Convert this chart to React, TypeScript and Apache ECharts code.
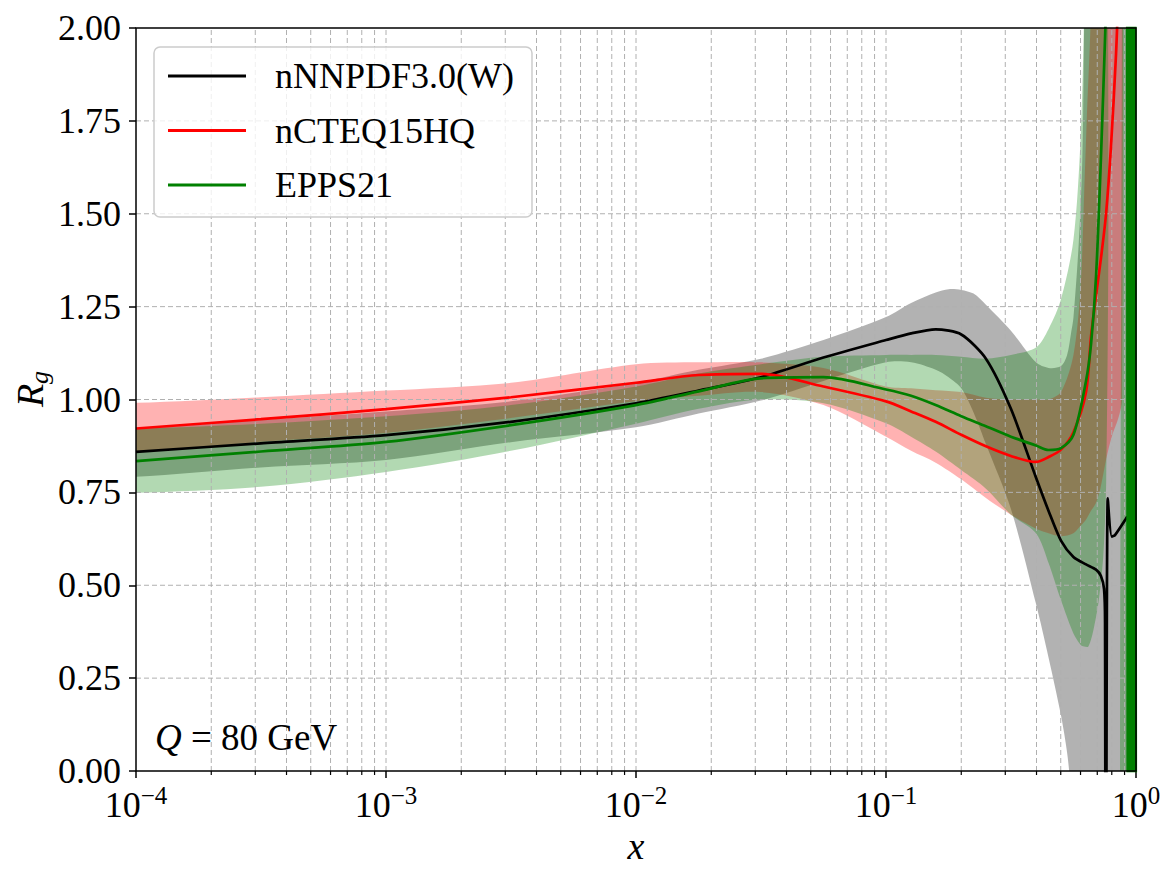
import React, { useEffect, useRef } from "react";
import * as echarts from "echarts";

// ---------- data ----------
// central values
const nnpdfX = [1e-4, 3.16e-4, 1e-3, 3.16e-3, 0.01, 0.0178, 0.0316, 0.0562, 0.1, 0.126, 0.158, 0.2, 0.251, 0.316, 0.398, 0.447, 0.501, 0.562, 0.631, 0.692, 0.724, 0.745, 0.752, 0.757, 0.771, 0.8, 0.824, 0.923];
const nnpdfY = [0.859, 0.882, 0.904, 0.94, 0.99, 1.024, 1.06, 1.113, 1.16, 1.178, 1.189, 1.175, 1.11, 0.975, 0.79, 0.7, 0.62, 0.576, 0.556, 0.542, 0.525, 0.49, 0.4, -1.0, 0.734, 0.631, 0.635, 0.685];

const ncteqX = [1e-4, 3.16e-4, 1e-3, 3.16e-3, 0.01, 0.0178, 0.0316, 0.0562, 0.1, 0.126, 0.158, 0.2, 0.251, 0.316, 0.398, 0.447, 0.501, 0.562, 0.631, 0.661, 0.692, 0.724, 0.759, 0.794, 0.832, 0.85];
const ncteqY = [0.922, 0.947, 0.974, 1.006, 1.045, 1.066, 1.069, 1.035, 0.995, 0.968, 0.94, 0.905, 0.874, 0.848, 0.832, 0.845, 0.865, 0.912, 1.02, 1.17, 1.28, 1.38, 1.5, 1.68, 1.93, 2.1];

const eppsX = [1e-4, 3.16e-4, 1e-3, 3.16e-3, 0.01, 0.0178, 0.0316, 0.0562, 0.1, 0.126, 0.158, 0.2, 0.251, 0.316, 0.398, 0.447, 0.501, 0.562, 0.631, 0.661, 0.692, 0.724, 0.7586];
const eppsY = [0.834, 0.86, 0.886, 0.931, 0.985, 1.022, 1.057, 1.06, 1.027, 1.01, 0.985, 0.955, 0.928, 0.9, 0.876, 0.864, 0.869, 0.905, 1.05, 1.15, 1.33, 1.65, 2.05];

// EPPS21 curve oscillating at x -> 1 (solid green strip)
const eppsEdgeX = [0.9204, 0.929, 0.9376, 0.9462, 0.955, 0.9638, 0.9727, 0.9817, 0.9908, 1.0];
const eppsEdgeY = [3, -1, 3, -1, 3, -1, 3, -1, 3, -1];

// uncertainty bands
const nnpdfBandX = [1e-4, 3.16e-4, 1e-3, 3.16e-3, 0.01, 0.0178, 0.0316, 0.0562, 0.1, 0.126, 0.158, 0.178, 0.2, 0.224, 0.251, 0.316, 0.398, 0.447, 0.501, 0.53, 0.55, 0.562, 0.59, 0.61, 0.62, 0.631, 1.0];
const nnpdfLo = [0.792, 0.817, 0.837, 0.885, 0.925, 0.962, 0.997, 1.05, 1.1, 1.1, 1.08, 1.06, 1.03, 0.965, 0.88, 0.705, 0.45, 0.305, 0.15, 0.05, -0.05, -0.1, -0.3, -0.5, -0.6, -0.8, -1];
const nnpdfHi = [0.922, 0.945, 0.968, 0.995, 1.045, 1.08, 1.11, 1.16, 1.222, 1.26, 1.288, 1.297, 1.295, 1.285, 1.255, 1.185, 1.1, 1.085, 1.09, 1.12, 1.18, 1.22, 1.42, 1.65, 2.0, 2.5, 3];

const ncteqBandX = [1e-4, 3.16e-4, 1e-3, 3.16e-3, 0.01, 0.0178, 0.0316, 0.0562, 0.1, 0.126, 0.158, 0.2, 0.251, 0.316, 0.398, 0.447, 0.501, 0.562, 0.6, 0.62, 0.635, 0.66, 0.69, 0.72, 0.76, 0.8, 0.85, 0.88];
const ncteqLo = [0.859, 0.886, 0.91, 0.95, 0.995, 1.01, 1.02, 0.985, 0.9, 0.862, 0.83, 0.785, 0.735, 0.69, 0.652, 0.64, 0.632, 0.64, 0.66, 0.67, 0.68, 0.7, 0.72, 0.76, 0.84, 0.9, 0.95, 1.0];
const ncteqHi = [0.991, 1.006, 1.024, 1.045, 1.095, 1.1, 1.1, 1.085, 1.035, 1.03, 1.025, 1.02, 1.005, 1.0, 1.0, 1.0, 1.02, 1.12, 1.3, 1.55, 1.75, 2.05, 3, 3, 3, 3, 3, 3];

const eppsBandX = [1e-4, 3.16e-4, 1e-3, 3.16e-3, 0.01, 0.0178, 0.0316, 0.0562, 0.1, 0.126, 0.158, 0.2, 0.251, 0.316, 0.398, 0.447, 0.501, 0.562, 0.6, 0.62, 0.645, 0.676, 0.71, 0.74, 0.76, 0.775, 0.785, 0.87, 0.875, 1.0];
const eppsLo = [0.749, 0.765, 0.805, 0.862, 0.935, 0.975, 1.0, 0.99, 0.936, 0.9, 0.86, 0.81, 0.76, 0.69, 0.64, 0.56, 0.46, 0.37, 0.34, 0.335, 0.335, 0.38, 0.46, 0.58, 0.78, 1.4, 3, 3, -1, -1];
const eppsHi = [0.922, 0.935, 0.955, 0.985, 1.035, 1.07, 1.095, 1.115, 1.12, 1.12, 1.12, 1.115, 1.11, 1.12, 1.14, 1.19, 1.27, 1.43, 1.7, 2.05, 3, 3, 3, 3, 3, 3, 3, 3, 3, 3];

// axis ticks
const decadeTicks = [1e-4, 1e-3, 1e-2, 1e-1, 1];
const minorMultipliers = [2, 3, 4, 5, 6, 7, 8, 9];
const yGridValues = [0.25, 0.5, 0.75, 1.0, 1.25, 1.5, 1.75];

const legendNames = ["nNNPDF3.0(W)", "nCTEQ15HQ", "EPPS21"];
const colors = { nnpdf: "#000000", ncteq: "#ff0000", epps: "#008000" };

const FONT = "Liberation Serif";
const LINE_W = 2.7;

const pairs = (xs: number[], ys: number[]) => xs.map((x, i) => [x, ys[i]]);

function bandSeries(name: string, xs: number[], lo: number[], hi: number[], fill: string, z: number) {
  return {
    type: "custom",
    name,
    coordinateSystem: "cartesian2d",
    clip: true,
    silent: true,
    z,
    data: [[0.01, 1]],
    renderItem: (params: any, api: any) => {
      const up = xs.map((x, i) => api.coord([x, hi[i]]));
      const dn = xs.map((x, i) => api.coord([x, lo[i]]));
      const ext = 80; // run the outline past the plot edges so that smoothing corners fall outside the clip
      const n = xs.length;
      const pts: number[][] = [];
      pts.push([up[0][0] - ext, up[0][1]]);
      for (const p of up) pts.push(p);
      if (xs[n - 1] >= 1) {
        pts.push([up[n - 1][0] + ext, up[n - 1][1]]);
        pts.push([dn[n - 1][0] + ext, dn[n - 1][1]]);
      }
      for (let i = n - 1; i >= 0; i--) pts.push(dn[i]);
      pts.push([dn[0][0] - ext, dn[0][1]]);
      return {
        type: "polygon",
        shape: { points: pts, smooth: 0.3 },
        style: { fill, stroke: null, lineWidth: 0 },
      };
    },
  };
}

export default function App() {
  const ref = useRef<HTMLDivElement>(null);

  useEffect(() => {
    document.body.style.margin = "0";
    if (!ref.current) return;
    const chart = echarts.init(ref.current, undefined, { renderer: "svg" });

    const minorX: number[] = [];
    for (let d = 0; d < decadeTicks.length - 1; d++) {
      for (const m of minorMultipliers) minorX.push(decadeTicks[d] * m);
    }
    const gridX = [...decadeTicks.slice(1, -1), ...minorX];

    const lineSeries = (name: string, xs: number[], ys: number[], color: string, smooth: number | boolean) => ({
      type: "line",
      name,
      data: pairs(xs, ys),
      symbol: "none",
      showSymbol: false,
      smooth,
      clip: true,
      z: 5,
      lineStyle: { color, width: LINE_W },
      itemStyle: { color },
    });

    const option: any = {
      animation: false,
      backgroundColor: "#ffffff",
      grid: {
        left: 136,
        top: 28,
        width: 1000,
        height: 743,
        containLabel: false,
        outerBoundsMode: "none",
        show: false,
      },
      legend: {
        data: legendNames,
        orient: "vertical",
        left: 154,
        top: 47,
        icon: "rect",
        itemWidth: 78,
        itemHeight: 3,
        itemGap: 14.5,
        padding: [9, 18, 12, 14],
        backgroundColor: "rgba(255,255,255,0.8)",
        borderColor: "#cccccc",
        borderWidth: 1.5,
        borderRadius: 6,
        selectedMode: false,
        z: 30,
        textStyle: {
          fontFamily: FONT,
          fontSize: 36,
          color: "#000",
          lineHeight: 40,
          padding: [0, 0, 0, 24],
        },
      },
      xAxis: {
        type: "log",
        logBase: 10,
        min: 1e-4,
        max: 1,
        axisLine: { show: false },
        splitLine: { show: false },
        axisTick: { show: true, inside: false, length: 7, lineStyle: { color: "#000", width: 1.5 } },
        axisLabel: {
          margin: 12,
          color: "#000",
          showMinLabel: true,
          showMaxLabel: true,
          fontFamily: FONT,
          formatter: (v: number) => {
            const e = Math.round(Math.log10(v));
            return `{b|10}{s|${e < 0 ? "\u2212" : ""}${Math.abs(e)}}`;
          },
          rich: {
            b: { fontSize: 36, fontFamily: FONT, color: "#000", lineHeight: 44 },
            s: { fontSize: 25, fontFamily: FONT, color: "#000", lineHeight: 16, verticalAlign: "top" },
          },
        },
      },
      yAxis: {
        type: "value",
        min: 0,
        max: 2,
        interval: 0.25,
        axisLine: { show: false },
        splitLine: { show: false },
        axisTick: { show: true, inside: false, length: 7, lineStyle: { color: "#000", width: 1.5 } },
        axisLabel: {
          margin: 15,
          color: "#000",
          fontFamily: FONT,
          fontSize: 36,
          formatter: (v: number) => v.toFixed(2),
        },
      },
      graphic: [
        {
          type: "text",
          x: 30,
          y: 389,
          rotation: Math.PI / 2,
          style: {
            text: "{R|R}{g|g}",
            align: "center",
            verticalAlign: "middle",
            textAlign: "center",
            textVerticalAlign: "middle",
            rich: {
              R: { fontSize: 38, fontStyle: "italic", fontFamily: FONT, fill: "#000", lineHeight: 44 },
              g: { fontSize: 26, fontStyle: "italic", fontFamily: FONT, fill: "#000", lineHeight: 22, verticalAlign: "bottom" },
            },
          },
        },
        {
          type: "text",
          x: 636,
          y: 846,
          style: {
            text: "x",
            font: `italic 38px "${FONT}"`,
            fill: "#000",
            align: "center",
            verticalAlign: "middle",
            textAlign: "center",
            textVerticalAlign: "middle",
          },
        },
        {
          type: "text",
          x: 155,
          y: 737,
          z: 30,
          style: {
            text: "{q|Q}{n| = 80 GeV}",
            align: "left",
            verticalAlign: "middle",
            textAlign: "left",
            textVerticalAlign: "middle",
            rich: {
              q: { fontSize: 37, fontStyle: "italic", fontFamily: FONT, fill: "#000" },
              n: { fontSize: 37, fontFamily: FONT, fill: "#000" },
            },
          },
        },
      ],
      series: [
        bandSeries("nNNPDF band", nnpdfBandX, nnpdfLo, nnpdfHi, "rgba(0,0,0,0.3)", 2),
        bandSeries("nCTEQ band", ncteqBandX, ncteqLo, ncteqHi, "rgba(255,0,0,0.3)", 2),
        bandSeries("EPPS band", eppsBandX, eppsLo, eppsHi, "rgba(0,128,0,0.3)", 2),
        {
          // grid lines (drawn over the bands, under the curves)
          type: "custom",
          name: "gridlines",
          coordinateSystem: "cartesian2d",
          silent: true,
          z: 3,
          data: [[0.01, 1]],
          renderItem: (params: any, api: any) => {
            const children: any[] = [];
            const st = { stroke: "#b0b0b0", lineWidth: 1, lineDash: [5, 3], fill: null };
            for (const x of gridX) {
              const a = api.coord([x, 0]);
              const b = api.coord([x, 2]);
              children.push({ type: "line", shape: { x1: a[0], y1: a[1], x2: b[0], y2: b[1] }, style: st });
            }
            for (const y of yGridValues) {
              const a = api.coord([1e-4, y]);
              const b = api.coord([1, y]);
              children.push({ type: "line", shape: { x1: a[0], y1: a[1], x2: b[0], y2: b[1] }, style: st });
            }
            return { type: "group", children };
          },
        },
        lineSeries("nNNPDF3.0(W)", nnpdfX, nnpdfY, colors.nnpdf, 0.25),
        lineSeries("nCTEQ15HQ", ncteqX, ncteqY, colors.ncteq, 0.3),
        lineSeries("EPPS21", eppsX, eppsY, colors.epps, 0.3),
        lineSeries("EPPS21 edge", eppsEdgeX, eppsEdgeY, colors.epps, false),
        {
          // minor ticks on the x axis and the frame
          type: "custom",
          name: "frame",
          coordinateSystem: "cartesian2d",
          silent: true,
          z: 20,
          data: [[0.01, 1]],
          renderItem: (params: any, api: any) => {
            const children: any[] = [];
            for (const x of minorX) {
              const a = api.coord([x, 0]);
              children.push({
                type: "line",
                shape: { x1: a[0], y1: a[1], x2: a[0], y2: a[1] + 4 },
                style: { stroke: "#000", lineWidth: 1.2 },
              });
            }
            const tl = api.coord([1e-4, 2]);
            const br = api.coord([1, 0]);
            children.push({
              type: "rect",
              shape: { x: tl[0], y: tl[1], width: br[0] - tl[0], height: br[1] - tl[1] },
              style: { fill: null, stroke: "#000", lineWidth: 1.5 },
            });
            return { type: "group", children };
          },
        },
      ],
    };

    chart.setOption(option);
    return () => chart.dispose();
  }, []);

  return <div ref={ref} style={{ width: 1176, height: 876 }} />;
}
